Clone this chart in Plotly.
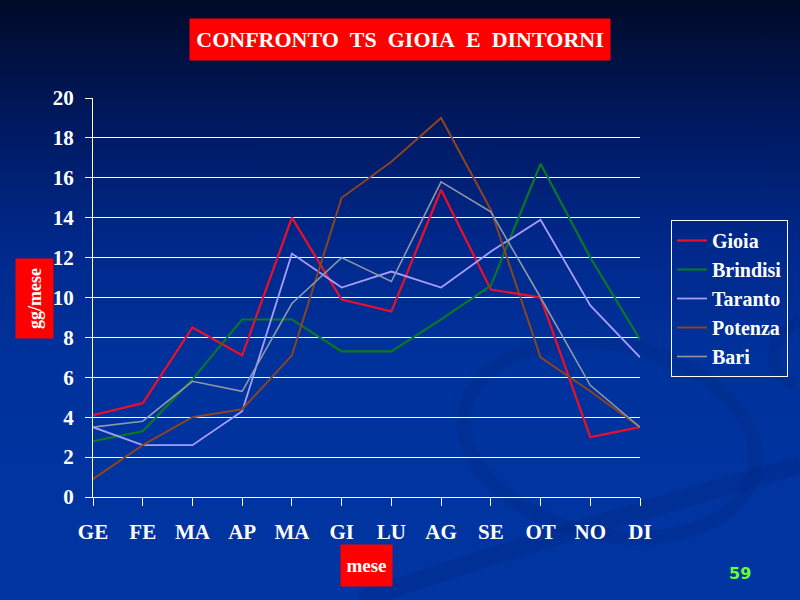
import base64
import plotly.graph_objects as go

# ---- data ----
months = ["GE", "FE", "MA", "AP", "MA", "GI", "LU", "AG", "SE", "OT", "NO", "DI"]
gioia = [4.1, 4.7, 8.5, 7.1, 14.0, 9.9, 9.3, 15.4, 10.4, 10.0, 3.0, 3.5]
brindisi = [2.8, 3.3, 5.9, 8.9, 8.9, 7.3, 7.3, 8.9, 10.6, 16.7, 12.0, 7.9]
taranto = [3.5, 2.6, 2.6, 4.3, 12.2, 10.5, 11.3, 10.5, 12.3, 13.9, 9.6, 7.0]
potenza = [0.9, 2.6, 4.0, 4.4, 7.1, 15.0, 16.8, 19.0, 14.4, 7.0, 5.3, 3.5]
bari = [3.5, 3.8, 5.8, 5.3, 9.7, 12.0, 10.8, 15.8, 14.3, 10.0, 5.6, 3.5]
y_ticks = list(range(0, 21, 2))

series = [
    ("Gioia", gioia, "#e5102c", 2.3),
    ("Brindisi", brindisi, "#0a7a22", 2.1),
    ("Taranto", taranto, "#a99cff", 1.8),
    ("Potenza", potenza, "#8a4422", 2.0),
    ("Bari", bari, "#8e98a8", 1.6),
]

xs = list(range(len(months)))

# ---- background (gradient slide with faint swirl) ----
svg = """<svg xmlns='http://www.w3.org/2000/svg' width='800' height='600' viewBox='0 0 800 600'>
<defs><linearGradient id='g' x1='0' y1='0' x2='0' y2='1'>
<stop offset='0' stop-color='#000a28'/>
<stop offset='0.18' stop-color='#00175a'/>
<stop offset='0.40' stop-color='#00288a'/>
<stop offset='0.60' stop-color='#00329c'/>
<stop offset='1' stop-color='#0035a2'/>
</linearGradient></defs>
<rect width='800' height='600' fill='url(#g)'/>
<ellipse cx='610' cy='440' rx='148' ry='95' transform='rotate(12 610 440)' fill='none' stroke='#001f70' stroke-opacity='0.18' stroke-width='14'/>
<path d='M 360 600 C 520 545 660 505 800 465' fill='none' stroke='#001f70' stroke-opacity='0.2' stroke-width='18'/>
<path d='M 800 320 C 770 335 762 370 795 385' fill='none' stroke='#001f70' stroke-opacity='0.2' stroke-width='12'/>
</svg>"""
bg_uri = "data:image/svg+xml;base64," + base64.b64encode(svg.encode()).decode()

fig = go.Figure()
for name, vals, color, width in series:
    fig.add_trace(go.Scatter(
        x=xs, y=vals, name=name, mode="lines",
        line=dict(color=color, width=width),
        cliponaxis=False,
    ))

L, R, T, B = 93, 640, 98, 497
PW, PH = R - L, B - T


def px(xp):
    return (xp - L) / PW


def py(yp):
    return (B - yp) / PH


serif = "Liberation Serif"

fig.update_layout(
    width=800, height=600,
    margin=dict(l=L, r=800 - R, t=T, b=600 - B),
    paper_bgcolor="#00329c",
    plot_bgcolor="rgba(0,0,0,0)",
    showlegend=True,
    legend=dict(
        x=px(671), y=py(220), xanchor="left", yanchor="top",
        bgcolor="rgba(0,0,0,0)", bordercolor="white", borderwidth=1,
        font=dict(family=serif, size=20, color="white", weight="bold"),
    ),
    images=[dict(
        source=bg_uri, xref="paper", yref="paper",
        x=px(0), y=py(0), sizex=800 / PW, sizey=600 / PH,
        xanchor="left", yanchor="top", sizing="stretch", layer="below",
    )],
    xaxis=dict(
        range=[0, 11], tickvals=xs, ticktext=months,
        showgrid=False, zeroline=False,
        showline=True, linecolor="white", linewidth=1,
        ticks="outside", ticklen=8, tickcolor="white", tickwidth=1,
        ticklabelstandoff=8,
        tickfont=dict(family=serif, size=21, color="white", weight="bold"),
    ),
    yaxis=dict(
        range=[0, 20], tickvals=y_ticks,
        showgrid=True, gridcolor="white", gridwidth=1, zeroline=False,
        showline=True, linecolor="white", linewidth=1,
        ticks="outside", ticklen=7, tickcolor="white", tickwidth=1,
        ticklabelstandoff=7,
        tickfont=dict(family=serif, size=21, color="white", weight="bold"),
    ),
    annotations=[
        dict(text="CONFRONTO\u00a0\u00a0TS\u00a0\u00a0GIOIA\u00a0\u00a0E\u00a0\u00a0DINTORNI",
             xref="paper", yref="paper", x=px(400), y=py(39.5),
             xanchor="center", yanchor="middle", showarrow=False,
             width=418, height=39, bgcolor="#ff0000",
             font=dict(family=serif, size=22, color="white", weight="bold")),
        dict(text="gg/mese", textangle=-90,
             xref="paper", yref="paper", x=px(34.5), y=py(298.5),
             xanchor="center", yanchor="middle", showarrow=False,
             width=77, height=35, bgcolor="#ff0000",
             font=dict(family=serif, size=18, color="white", weight="bold")),
        dict(text="mese",
             xref="paper", yref="paper", x=px(366.5), y=py(565.5),
             xanchor="center", yanchor="middle", showarrow=False,
             width=49, height=39, bgcolor="#ff0000",
             font=dict(family=serif, size=19, color="white", weight="bold")),
        dict(text="59",
             xref="paper", yref="paper", x=px(740), y=py(573),
             xanchor="center", yanchor="middle", showarrow=False,
             font=dict(family="DejaVu Sans", size=16, color="#66ff33", weight="bold")),
    ],
)

fig.write_html(
    "out.html",
    config={"displayModeBar": False},
    post_script="document.body.style.margin='0';document.body.style.overflow='hidden';",
)
